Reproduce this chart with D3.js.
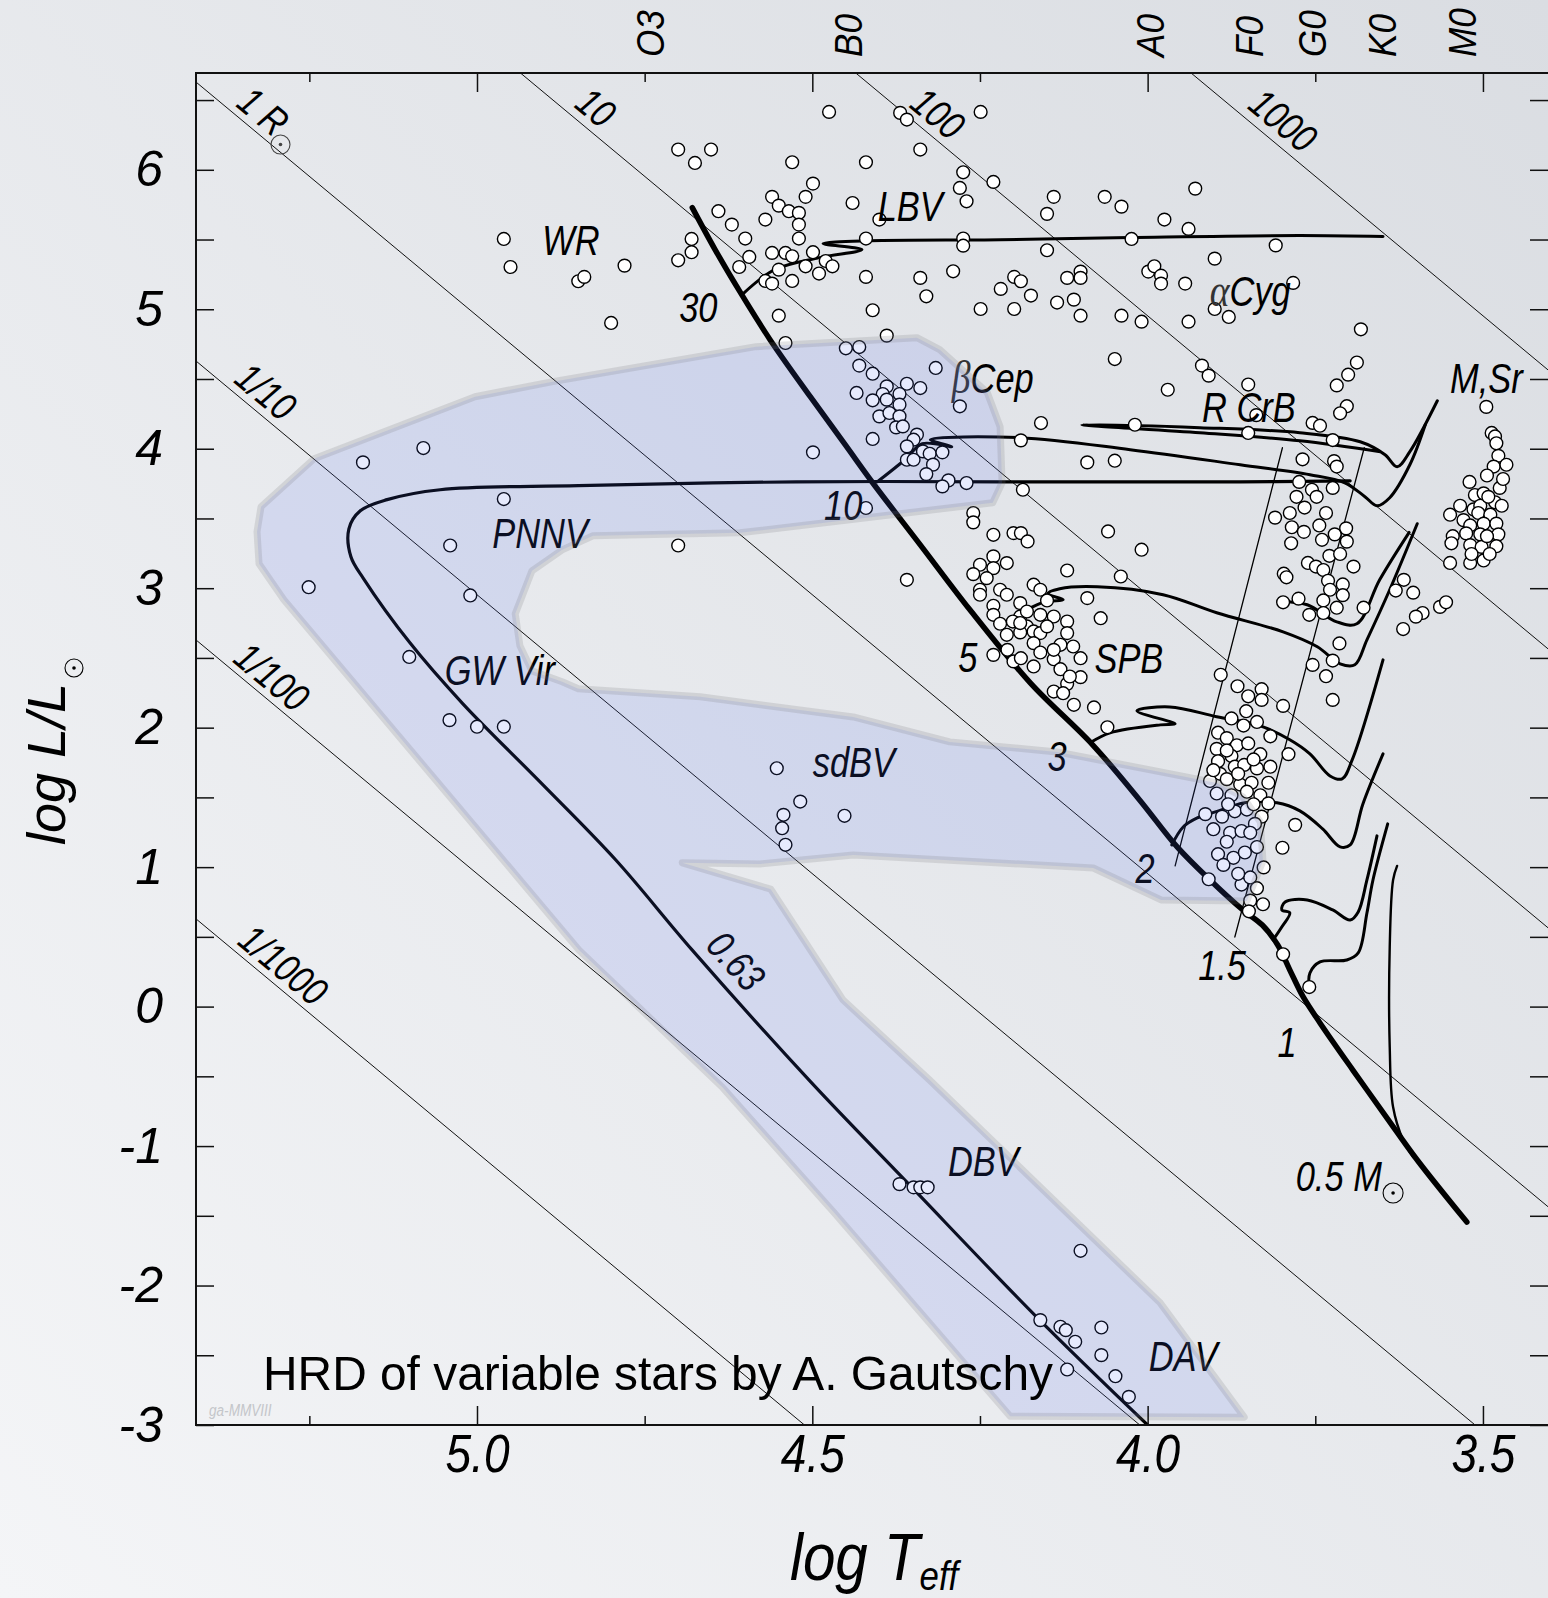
<!DOCTYPE html>
<html>
<head>
<meta charset="utf-8">
<script src="https://cdn.jsdelivr.net/npm/d3@7"></script>
<style>
  html, body { margin: 0; padding: 0; }
  body { width: 1548px; height: 1598px; overflow: hidden; }
  svg text { font-family: 'Liberation Sans', Arial, sans-serif; }
</style>
</head>
<body>
<svg id="chart" width="1548" height="1598"></svg>
<script>
// ---- axis ticks / categories ----
const xMajorTicks = [5.0, 4.5, 4.0, 3.5];
const xMinorTicks = [5.25, 4.75, 4.25, 3.75];
const yTicks = [-3, -2, -1, 0, 1, 2, 3, 4, 5, 6];
const yHalfTicks = [-2.5, -1.5, -0.5, 0.5, 1.5, 2.5, 3.5, 4.5, 5.5, 6.5];
const spectralTypes = ['O3', 'B0', 'A0', 'F0', 'G0', 'K0', 'M0'];
const spectralLogT = [4.742, 4.447, 3.996, 3.849, 3.755, 3.650, 3.531];
const radii = [1000, 100, 10, 1, 0.1, 0.01, 0.001];
const radiusLabels = ['1000', '100', '10', '1 R', '1/10', '1/100', '1/1000'];

// ---- evolutionary tracks [log Teff, log L] ----
const zams = [[4.679,5.729],[4.645,5.428],[4.608,5.126],[4.563,4.782],[4.503,4.373],[4.451,4.029],[4.410,3.756],[4.339,3.311],[4.265,2.845],[4.175,2.321],[4.082,1.877],[4.012,1.482],[3.956,1.145],[3.907,0.908],[3.858,0.693],[3.829,0.585],[3.806,0.442],[3.788,0.263],[3.768,0.069],[3.743,-0.117],[3.694,-0.455],[3.643,-0.799],[3.598,-1.100],[3.524,-1.545]];
const track30 = [[4.603,5.112],[4.556,5.284],[4.489,5.370],[4.426,5.428],[4.484,5.471],[4.414,5.492],[4.220,5.499],[4.026,5.514],[3.773,5.528],[3.649,5.521]];
const track10 = [[4.403,3.763],[4.362,3.921],[4.336,4.036],[4.292,4.014],[4.324,4.065],[4.190,4.079],[4.026,3.993],[3.862,3.885],[3.758,3.814],[3.706,3.756],[3.676,3.656],[3.658,3.591],[3.639,3.649],[3.609,3.885],[3.586,4.172]];
const trackLoop = [[3.653,3.979],[3.773,4.057],[3.922,4.115],[4.098,4.172],[3.922,4.151],[3.773,4.115],[3.683,4.050],[3.646,3.957],[3.628,3.871],[3.609,3.979],[3.568,4.344]];
const track5 = [[4.180,2.845],[4.153,2.903],[4.126,2.917],[4.149,2.960],[4.131,2.996],[4.075,3.010],[3.977,2.953],[3.897,2.824],[3.798,2.687],[3.747,2.580],[3.713,2.458],[3.691,2.451],[3.673,2.630],[3.639,2.989],[3.598,3.462]];
const track4 = [[3.798,2.903],[3.762,2.881],[3.718,2.759],[3.688,2.745],[3.654,3.060],[3.610,3.400]];
const track3 = [[4.086,1.891],[4.056,1.963],[3.981,2.020],[3.959,2.027],[4.016,2.121],[3.967,2.149],[3.897,2.078],[3.832,2.013],[3.788,1.913],[3.758,1.812],[3.728,1.654],[3.710,1.633],[3.695,1.769],[3.649,2.486]];
const track2 = [[3.964,1.159],[3.947,1.288],[3.926,1.353],[3.899,1.396],[3.855,1.461],[3.807,1.461],[3.773,1.403],[3.739,1.274],[3.713,1.145],[3.698,1.159],[3.679,1.453],[3.649,1.812]];
const track15 = [[3.813,0.478],[3.800,0.571],[3.788,0.672],[3.800,0.693],[3.795,0.750],[3.762,0.765],[3.724,0.693],[3.698,0.621],[3.686,0.679],[3.673,0.908],[3.658,1.224]];
const track1 = [[3.759,0.119],[3.758,0.241],[3.743,0.320],[3.703,0.334],[3.686,0.385],[3.673,0.671],[3.664,0.908],[3.642,1.310]];
const track05 = [[3.628,1.009],[3.634,0.908],[3.639,0.428],[3.639,-0.290],[3.634,-0.720],[3.619,-0.957],[3.604,-1.079]];
const postAGB063 = [[3.698,3.770],[3.862,3.763],[4.220,3.763],[4.524,3.763],[4.849,3.735],[5.055,3.706],[5.134,3.635],[5.174,3.555],[5.191,3.426],[5.188,3.225],[5.169,3.067],[5.100,2.608],[5.021,2.171],[4.906,1.611],[4.793,1.051],[4.679,0.405],[4.502,-0.542],[4.359,-1.259],[4.165,-2.228],[4.000,-3.0]];
const stripBlueEdge = [[3.799,4.007],[3.959,1.009]];
const stripRedEdge = [[3.677,4.007],[3.870,0.499]];

// ---- shaded instability domains ----
const instabilityRegion = [[5.328,3.405],[5.322,3.584],[5.243,3.928],[5.003,4.373],[4.887,4.481],[4.584,4.732],[4.344,4.796],[4.310,4.710],[4.239,4.402],[4.220,4.158],[4.217,3.756],[4.231,3.613],[4.608,3.397],[4.827,3.376],[4.873,3.275],[4.918,3.125],[4.943,2.816],[4.936,2.587],[4.918,2.407],[4.873,2.329],[4.849,2.279],[4.667,2.221],[4.439,2.077],[4.295,1.898],[4.135,1.826],[3.996,1.697],[3.897,1.604],[3.858,1.504],[3.832,1.324],[3.828,1.045],[3.852,0.757],[3.980,0.765],[4.081,0.994],[4.439,1.087],[4.578,1.023],[4.694,1.031],[4.562,0.842],[4.454,0.047],[4.325,-0.527],[3.981,-2.126],[3.856,-2.944],[4.205,-2.937],[4.468,-1.474],[4.633,-0.584],[4.848,0.406],[5.288,2.917],[5.325,3.175]];

// ---- variable stars [log Teff, log L] ----
const massiveStars = [[4.700,6.145],[4.675,6.049],[4.651,6.145],[4.960,5.504],[4.950,5.303],[4.849,5.201],[4.840,5.232],[4.780,5.313],[4.800,4.902],[4.640,5.703],[4.620,5.607],[4.680,5.504],[4.680,5.409],[4.700,5.351],[4.609,5.303],
  [4.475,6.415],[4.369,6.408],[4.359,6.360],[4.249,6.415],[4.339,6.145],[4.530,6.054],[4.420,6.054],[4.275,5.982],[4.230,5.913],[4.499,5.901],[4.510,5.806],[4.560,5.806],[4.550,5.743],[4.535,5.703],[4.520,5.691],[4.570,5.643],[4.520,5.607],[4.440,5.762],[4.400,5.643],[4.280,5.870],[4.270,5.774],[4.520,5.507],[4.600,5.507],[4.420,5.507],[4.275,5.507],[4.275,5.456],[4.140,5.806],[4.150,5.684],[4.064,5.806],[4.039,5.736],[3.975,5.643],[3.939,5.576],[3.929,5.865],[4.024,5.504],[4.150,5.423],[3.900,5.363],[4.594,5.375],
  [4.560,5.404],[4.540,5.404],[4.530,5.380],[4.499,5.409],[4.480,5.346],[4.470,5.308],[4.510,5.308],[4.550,5.284],[4.490,5.256],[4.570,5.203],[4.560,5.184],[4.530,5.203],[4.420,5.232],[4.339,5.225],[4.330,5.093],[4.290,5.272],[4.199,5.232],[4.189,5.201],[4.219,5.146],[4.174,5.098],[4.249,5.002],[4.199,5.002],[4.410,4.993],[4.550,4.954],[4.540,4.758],[4.389,4.811],[4.135,5.048],[4.110,5.069],[4.120,5.225],[4.100,5.270],[4.100,5.225],[4.100,4.954],[4.039,4.954],[4.009,4.911],[3.999,5.270],[3.990,5.308],[3.980,5.241],[3.980,5.184],[3.944,5.184],[3.939,4.911],[3.900,5.002],[3.879,4.945],[4.049,4.643],[3.919,4.596],[3.909,4.524],[3.970,4.423],[4.019,4.172],[4.159,4.184],[4.189,4.060],[4.090,3.902],[4.049,3.914],[4.186,3.706],[4.260,3.539],[4.260,3.472],[4.230,3.383],[4.200,3.395],[4.189,3.395],[4.059,3.407],
  [3.809,5.458],[3.783,5.189],[3.682,4.856],[3.688,4.618],[3.701,4.531],[3.718,4.454],[3.850,4.460],[3.838,4.241],[3.703,4.305],[3.713,4.254],[3.754,4.185],[3.743,4.165],[3.850,4.113],[3.724,4.062]];
const betaCepStars = [[4.450,4.720],[4.430,4.729],[4.430,4.596],[4.410,4.538],[4.434,4.400],[4.389,4.447],[4.359,4.466],[4.339,4.435],[4.370,4.392],[4.395,4.392],[4.410,4.347],[4.389,4.352],[4.370,4.316],[4.400,4.232],[4.385,4.256],[4.370,4.232],[4.375,4.153],[4.365,4.160],[4.410,4.070],[4.344,4.101],[4.349,4.065],[4.359,4.017],[4.335,3.981],[4.325,3.964],[4.306,3.974],[4.359,3.921],[4.349,3.921],[4.320,3.886],[4.330,3.818],[4.297,3.773],[4.306,3.730],[4.270,3.754],[4.316,4.579],[4.280,4.304],[4.499,3.974],[4.420,3.575]];
const hotStars = [[5.170,3.902],[5.080,4.005],[4.960,3.639],[5.040,3.306],[4.700,3.306],[5.251,3.007],[5.010,2.948],[5.101,2.507],[5.041,2.054],[5.000,2.007],[4.960,2.007]];
const sdbvStars = [[4.553,1.709],[4.518,1.470],[4.543,1.375],[4.545,1.279],[4.540,1.160],[4.452,1.368]];
const spbStars = [[4.179,3.335],[4.009,3.276],[4.040,3.084],[4.120,3.127],[4.359,3.060],[4.230,3.228],[4.210,3.180],[4.250,3.168],[4.230,3.144],[4.260,3.101],[4.240,3.072],[4.250,2.989],[4.220,2.989],[4.210,2.953],[4.170,3.025],[4.160,2.989],[4.150,2.912],[4.190,2.893],[4.230,2.874],[4.230,2.809],[4.220,2.745],[4.190,2.797],[4.201,2.761],[4.180,2.726],[4.160,2.809],[4.140,2.797],[4.120,2.761],[4.120,2.678],[4.210,2.666],[4.190,2.683],[4.170,2.690],[4.160,2.678],[4.170,2.606],[4.130,2.594],[4.111,2.582],[4.100,2.498],[4.230,2.522],[4.209,2.558],[4.200,2.475],[4.189,2.498],[4.170,2.439],[4.160,2.539],[4.140,2.491],[4.130,2.419],[4.100,2.362],[4.120,2.314],[4.140,2.259],[4.126,2.247],[4.110,2.164],[4.080,2.145],[4.060,2.003],[4.090,2.929],[4.070,2.785],[4.190,2.750],[4.250,2.953],[4.180,2.833],[4.150,2.726],[4.140,2.558],[4.116,2.367]];
const cepheidStars = [[3.769,3.924],[3.722,3.911],[3.718,3.872],[3.774,3.762],[3.755,3.706],[3.748,3.655],[3.724,3.719],[3.778,3.655],[3.810,3.506],[3.788,3.539],[3.766,3.578],[3.734,3.539],[3.785,3.437],[3.767,3.404],[3.744,3.450],[3.786,3.322],[3.740,3.347],[3.721,3.386],[3.704,3.429],[3.703,3.334],[3.729,3.232],[3.713,3.245],[3.761,3.181],[3.749,3.155],[3.738,3.130],[3.693,3.155],[3.797,3.104],[3.793,3.078],[3.709,3.027],[3.731,3.053],[3.709,2.950],[3.798,2.899],[3.775,2.925],[3.728,2.989],[3.718,2.860],[3.738,2.912],[3.759,2.809],[3.738,2.822],[3.678,2.860],[3.714,2.604],[3.724,2.481],[3.754,2.450],[3.734,2.369],[3.724,2.199]];
const redGiantStars = [[3.618,3.060],[3.630,2.983],[3.604,2.968],[3.590,2.822],[3.600,2.796],[3.619,2.707],[3.564,2.866],[3.555,2.899]];
const miraStars = [[3.495,4.300],[3.487,4.113],[3.482,4.088],[3.480,4.039],[3.477,3.949],[3.484,3.872],[3.465,3.885],[3.494,3.808],[3.475,3.719],[3.520,3.762],[3.512,3.668],[3.499,3.680],[3.482,3.616],[3.472,3.591],[3.514,3.565],[3.504,3.591],[3.549,3.527],[3.529,3.488],[3.507,3.539],[3.489,3.527],[3.519,3.450],[3.499,3.463],[3.480,3.463],[3.545,3.373],[3.525,3.393],[3.504,3.386],[3.477,3.386],[3.547,3.322],[3.519,3.309],[3.502,3.296],[3.480,3.301],[3.549,3.181],[3.519,3.181],[3.499,3.199],[3.517,3.245],[3.492,3.655],[3.470,3.783],[3.534,3.591],[3.494,3.373],[3.490,3.245]];
const deltaScutiStars = [[3.891,2.379],[3.866,2.297],[3.850,2.225],[3.830,2.276],[3.830,2.199],[3.798,2.156],[3.853,2.118],[3.875,2.066],[3.857,2.015],[3.837,2.041],[3.895,1.964],[3.882,1.925],[3.867,1.874],[3.850,1.887],[3.817,1.938],[3.897,1.848],[3.875,1.797],[3.832,1.810],[3.790,1.810],[3.895,1.759],[3.892,1.669],[3.870,1.720],[3.856,1.733],[3.837,1.708],[3.817,1.720],[3.907,1.618],[3.882,1.631],[3.862,1.592],[3.845,1.605],[3.820,1.605],[3.897,1.528],[3.875,1.515],[3.852,1.541],[3.832,1.515],[3.820,1.457],[3.914,1.380],[3.889,1.362],[3.870,1.400],[3.852,1.413],[3.830,1.362],[3.902,1.272],[3.877,1.246],[3.860,1.259],[3.837,1.144],[3.895,1.093],[3.872,1.067],[3.855,1.105],[3.887,1.016],[3.827,0.998],[3.860,0.875],[3.847,0.926],[3.909,0.913],[3.847,0.760],[3.828,0.734],[3.849,0.683],[3.780,1.303],[3.799,1.139],[3.798,0.375],[3.759,0.140],[3.882,1.836],[3.842,1.772],[3.865,1.669],[3.902,1.695],[3.840,1.310],[3.882,1.182],[3.847,1.246],[3.865,0.952],[3.837,0.849],[3.842,1.451],[3.880,1.451]];
const whiteDwarfStars = [[4.370,-1.273],[4.349,-1.296],[4.339,-1.296],[4.328,-1.296],[4.100,-1.751],[4.160,-2.248],[4.130,-2.296],[4.122,-2.320],[4.108,-2.403],[4.069,-2.301],[4.069,-2.499],[4.120,-2.602],[4.048,-2.650],[4.028,-2.798]];

// ---- annotations ----
const classLabels = [
  {pre: '', text: 'WR', T: 4.860, L: 5.499},
  {pre: '', text: 'LBV', T: 4.354, L: 5.743},
  {pre: 'α', text: 'Cyg', T: 3.847, L: 5.134},
  {pre: 'β', text: 'Cep', T: 4.231, L: 4.509},
  {pre: '', text: 'R CrB', T: 3.849, L: 4.301},
  {pre: '', text: 'M,Sr', T: 3.495, L: 4.509},
  {pre: '', text: 'PNNV', T: 4.906, L: 3.397},
  {pre: '', text: 'GW Vir', T: 4.966, L: 2.415},
  {pre: '', text: 'SPB', T: 4.028, L: 2.501},
  {pre: '', text: 'sdBV', T: 4.438, L: 1.755},
  {pre: '', text: 'DBV', T: 4.245, L: -1.108},
  {pre: '', text: 'DAV', T: 3.947, L: -2.506},
  {pre: '', text: '0.5 M', T: 3.715, L: -1.215}
];
const massLabels = [
  {text: '30', T: 4.670, L: 5.011}, {text: '10', T: 4.454, L: 3.598},
  {text: '5', T: 4.268, L: 2.508}, {text: '3', T: 4.135, L: 1.798},
  {text: '2', T: 4.004, L: 0.994}, {text: '1.5', T: 3.889, L: 0.298},
  {text: '1', T: 3.792, L: -0.254}
];
const radiusLabelPos = [[3.798,6.353],[4.313,6.403],[4.823,6.446],[5.319,6.418],[5.315,4.409],[5.306,2.364],[5.289,0.298]];

// ---- layout ----
const W = 1548, H = 1598;
const x = d3.scaleLinear().domain([5.419, 3.403]).range([196, 1548]);
const y = d3.scaleLinear().domain([6.694, -3]).range([73, 1425]);
const TSUN = 3.7617;
const condensed = 0.82;

const svg = d3.select('#chart');
const defs = svg.append('defs');
const grad = defs.append('linearGradient').attr('id', 'bgGrad')
    .attr('x1', '100%').attr('y1', '0%').attr('x2', '0%').attr('y2', '100%');
grad.append('stop').attr('offset', '0%').attr('stop-color', '#dadde2');
grad.append('stop').attr('offset', '100%').attr('stop-color', '#f4f5f7');
defs.append('clipPath').attr('id', 'plotClip')
    .append('rect').attr('x', 196).attr('y', 73).attr('width', 1352).attr('height', 1352);

svg.append('rect').attr('width', W).attr('height', H).attr('fill', 'url(#bgGrad)');

const plot = svg.append('g').attr('clip-path', 'url(#plotClip)');

// constant radius lines
const tEnds = x.domain();
plot.append('g').selectAll('line').data(radii).join('line')
    .attr('x1', x(tEnds[0])).attr('y1', r => y(2 * Math.log10(r) + 4 * (tEnds[0] - TSUN)))
    .attr('x2', x(tEnds[1])).attr('y2', r => y(2 * Math.log10(r) + 4 * (tEnds[1] - TSUN)))
    .attr('stroke', '#111').attr('stroke-width', 1);

// tracks
const line = d3.line().x(d => x(d[0])).y(d => y(d[1])).curve(d3.curveCatmullRom.alpha(0.5));
const straight = d3.line().x(d => x(d[0])).y(d => y(d[1]));
const trackG = plot.append('g').attr('fill', 'none').attr('stroke', '#000')
    .attr('stroke-linejoin', 'round').attr('stroke-linecap', 'round');
[track30, track10, trackLoop, track5, track4, track3, track2, track15, track1].forEach(t => {
    trackG.append('path').attr('d', line(t)).attr('stroke-width', 3);
});
trackG.append('path').attr('d', line(track05)).attr('stroke-width', 2.4);
trackG.append('path').attr('d', line(postAGB063)).attr('stroke-width', 3.2);
trackG.append('path').attr('d', line(zams)).attr('stroke-width', 5.5);
[stripBlueEdge, stripRedEdge].forEach(s => {
    trackG.append('path').attr('d', straight(s)).attr('stroke-width', 1.3);
});

// stars
const allStars = [].concat(massiveStars, betaCepStars, hotStars, sdbvStars, spbStars,
    cepheidStars, redGiantStars, miraStars, deltaScutiStars, whiteDwarfStars);
plot.append('g').selectAll('circle').data(allStars).join('circle')
    .attr('cx', d => x(d[0])).attr('cy', d => y(d[1])).attr('r', 6.4)
    .attr('fill', '#fff').attr('stroke', '#000').attr('stroke-width', 1.4);

// labels
const labelG = svg.append('g').attr('font-style', 'italic').attr('fill', '#000');
function sun(g, cx, cy, r, color) {
    g.append('circle').attr('cx', cx).attr('cy', cy).attr('r', r)
        .attr('fill', 'none').attr('stroke', color).attr('stroke-width', 1.1);
    g.append('circle').attr('cx', cx).attr('cy', cy).attr('r', 1.8).attr('fill', color);
}
classLabels.forEach(d => {
    const t = labelG.append('text')
        .attr('transform', `translate(${x(d.T)},${y(d.L)}) scale(${condensed},1)`)
        .attr('text-anchor', 'middle').attr('dominant-baseline', 'central')
        .attr('font-size', 42);
    if (d.pre) {
        t.append('tspan').attr('font-family', "'Liberation Serif', serif")
            .attr('font-size', 46).attr('fill', '#333').text(d.pre);
    }
    t.append('tspan').text(d.text);
});
sun(labelG, x(3.634), y(-1.337), 10, '#000');
massLabels.forEach(d => {
    labelG.append('text')
        .attr('transform', `translate(${x(d.T)},${y(d.L)}) scale(${condensed},1)`)
        .attr('text-anchor', 'middle').attr('dominant-baseline', 'central')
        .attr('font-size', 42).text(d.text);
});
labelG.append('text')
    .attr('transform', `translate(${x(4.614)},${y(0.327)}) rotate(48) scale(${condensed},1)`)
    .attr('text-anchor', 'middle').attr('dominant-baseline', 'central')
    .attr('font-size', 40).text('0.63');

// slope of a constant-radius line on screen
const radAngle = Math.atan(4 * (y(0) - y(1)) / (x(4) - x(5))) * 180 / Math.PI;
radiusLabels.forEach((txt, i) => {
    const p = radiusLabelPos[i];
    labelG.append('text')
        .attr('transform', `translate(${x(p[0])},${y(p[1])}) rotate(${radAngle}) scale(${condensed},1)`)
        .attr('text-anchor', 'middle').attr('dominant-baseline', 'central')
        .attr('font-size', 40).text(txt);
});
sun(labelG, x(5.293), y(6.181), 9.5, '#444');

// spectral types along the top
spectralTypes.forEach((s, i) => {
    labelG.append('text')
        .attr('transform', `translate(${x(spectralLogT[i])},57) rotate(-90) scale(0.9,1)`)
        .attr('text-anchor', 'start').attr('dominant-baseline', 'central')
        .attr('font-size', 39).text(s);
});

// instability domains, laid over everything like a tinted film
svg.append('path')
    .attr('d', d3.line().x(d => x(d[0])).y(d => y(d[1])).curve(d3.curveLinearClosed)(instabilityRegion))
    .attr('fill', 'rgb(75,105,240)').attr('fill-opacity', 0.14)
    .attr('stroke', 'rgb(120,120,125)').attr('stroke-opacity', 0.2)
    .attr('stroke-width', 7).attr('stroke-linejoin', 'round');

// axes
function styleAxis(g) {
    g.select('.domain').remove();
    g.selectAll('line').attr('stroke', '#111').attr('stroke-width', 1.5);
}
const bottomMajor = svg.append('g').attr('transform', 'translate(0,1425)')
    .call(d3.axisBottom(x).tickValues(xMajorTicks).tickSize(-19).tickPadding(9).tickFormat(d3.format('.1f')));
styleAxis(bottomMajor);
bottomMajor.selectAll('text').attr('font-size', 53).attr('font-style', 'italic')
    .attr('font-family', "'Liberation Sans', Arial, sans-serif").attr('fill', '#000')
    .attr('transform', 'scale(0.87,1)');
styleAxis(svg.append('g').attr('transform', 'translate(0,1425)')
    .call(d3.axisBottom(x).tickValues(xMinorTicks).tickSize(-9).tickFormat('')));
styleAxis(svg.append('g').attr('transform', 'translate(0,73)')
    .call(d3.axisTop(x).tickValues(xMajorTicks).tickSize(-19).tickFormat('')));
styleAxis(svg.append('g').attr('transform', 'translate(0,73)')
    .call(d3.axisTop(x).tickValues(xMinorTicks).tickSize(-9).tickFormat('')));

const leftAxis = svg.append('g').attr('transform', 'translate(196,0)')
    .call(d3.axisLeft(y).tickValues(yTicks).tickSize(-18).tickPadding(33).tickFormat(d => String(d)));
styleAxis(leftAxis);
leftAxis.selectAll('text').attr('font-size', 50).attr('font-style', 'italic')
    .attr('font-family', "'Liberation Sans', Arial, sans-serif").attr('fill', '#000');
styleAxis(svg.append('g').attr('transform', 'translate(196,0)')
    .call(d3.axisLeft(y).tickValues(yHalfTicks.filter(v => v < 6.6)).tickSize(-18).tickFormat('')));
styleAxis(svg.append('g').attr('transform', 'translate(1548,0)')
    .call(d3.axisRight(y).tickValues(yTicks.concat(yHalfTicks).filter(v => v < 6.6)).tickSize(-18).tickFormat('')));

// frame
svg.append('path').attr('d', 'M1548,73H196V1425H1548')
    .attr('fill', 'none').attr('stroke', '#111').attr('stroke-width', 2);

// axis titles
svg.append('text').attr('transform', 'translate(65,845) rotate(-90)')
    .attr('font-size', 54).attr('font-style', 'italic').attr('text-anchor', 'start').text('log L/L');
sun(svg.append('g'), 74, 668, 9, '#000');
const xTitle = svg.append('text').attr('transform', 'translate(790,1580) scale(0.87,1)')
    .attr('font-size', 67).attr('font-style', 'italic');
xTitle.append('tspan').text('log T');
xTitle.append('tspan').attr('font-size', 40).attr('dy', 10).text('eff');

// credits
svg.append('text').attr('x', 263).attr('y', 1390).attr('font-size', 49)
    .attr('textLength', 790).attr('lengthAdjust', 'spacingAndGlyphs')
    .text('HRD of variable stars by A. Gautschy');
svg.append('text').attr('transform', 'translate(209,1416) scale(0.8,1)')
    .attr('font-size', 17).attr('font-style', 'italic').attr('fill', '#c4c6ca').text('ga-MMVIII');
</script>
</body>
</html>
